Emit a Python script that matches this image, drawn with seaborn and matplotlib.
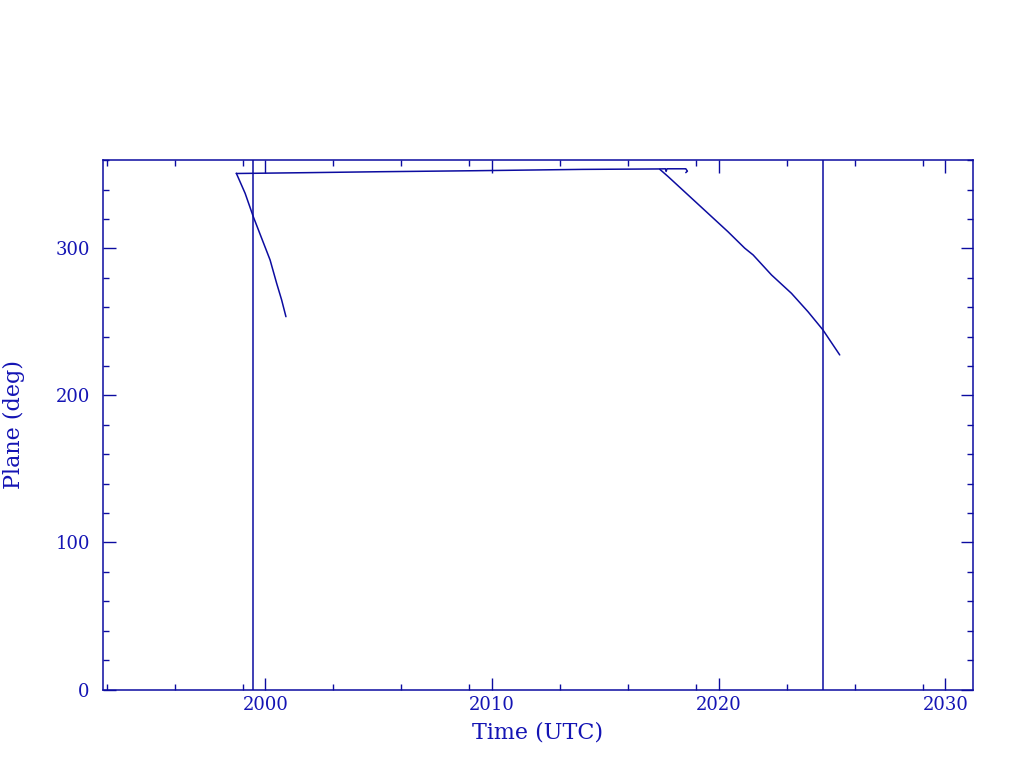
import numpy as np
import pandas as pd
import matplotlib
matplotlib.use('Agg')
import matplotlib.pyplot as plt
from matplotlib.ticker import FixedLocator, MultipleLocator
import seaborn as sns

# track 1: early descent
t1 = [1998.72, 1999.11, 1999.47, 1999.84, 2000.21, 2000.50, 2000.72, 2000.91]
p1 = [351.2, 337.5, 321.6, 306.9, 292.2, 276.3, 265.0, 253.6]

# track 2: near-constant plane with hook at the end
t2 = [1998.72, 2002.0, 2005.0, 2009.3, 2014.0, 2017.4, 2017.65, 2017.68, 2017.72, 2018.55, 2018.62, 2018.55]
p2 = [351.0, 351.6, 352.2, 352.9, 353.8, 354.1, 354.2, 352.4, 354.2, 354.2, 352.6, 351.6]

# track 3: late descent
t3 = [2017.40, 2017.77, 2018.65, 2019.53, 2020.41, 2021.15, 2021.52, 2022.33,
      2023.21, 2023.94, 2024.60, 2025.34]
p3 = [353.9, 348.9, 336.4, 323.9, 311.4, 300.2, 295.6, 282.0,
      269.5, 257.0, 244.6, 227.6]

vlines = [1999.47, 2024.60]

df = pd.concat([
    pd.DataFrame({'time': t1, 'plane': p1, 'track': 1}),
    pd.DataFrame({'time': t2, 'plane': p2, 'track': 2}),
    pd.DataFrame({'time': t3, 'plane': p3, 'track': 3}),
])

sns.set_style('ticks')
plt.rcParams['font.family'] = ['DejaVu Serif']

ink = '#0c0ca0'
txt = '#1414b4'

fig = plt.figure(figsize=(10.24, 7.68), dpi=100)
ax = fig.add_axes([0.1006, 0.1022, 0.8496, 0.6895])

sns.lineplot(data=df, x='time', y='plane', units='track', estimator=None,
             sort=False, color=ink, linewidth=1.1, ax=ax)
for v in vlines:
    ax.axvline(v, color=ink, linewidth=1.1)

ax.set_xlim(1992.84, 2031.22)
ax.set_ylim(0, 360.2)

ax.xaxis.set_major_locator(FixedLocator([2000, 2010, 2020, 2030]))
minor_x = [d + k for d in (1990, 2000, 2010, 2020) for k in (3, 6, 9)] + [2033]
ax.xaxis.set_minor_locator(FixedLocator(minor_x))
ax.yaxis.set_major_locator(MultipleLocator(100))
ax.yaxis.set_minor_locator(MultipleLocator(20))

ax.tick_params(which='both', direction='in', top=True, right=True,
               color=ink, labelcolor=txt, labelsize=13, width=1)
ax.tick_params(which='major', length=9)
ax.tick_params(which='minor', length=4.5)
ax.tick_params(axis='y', which='both', pad=9.5)
ax.tick_params(axis='x', which='both', pad=5)
for s in ax.spines.values():
    s.set_color(ink)
    s.set_linewidth(1.1)

ax.set_xlabel('Time (UTC)', color=txt, fontsize=16, labelpad=5)
ax.set_ylabel('Plane (deg)', color=txt, fontsize=16, labelpad=22)

fig.savefig('out.png', dpi=100)
